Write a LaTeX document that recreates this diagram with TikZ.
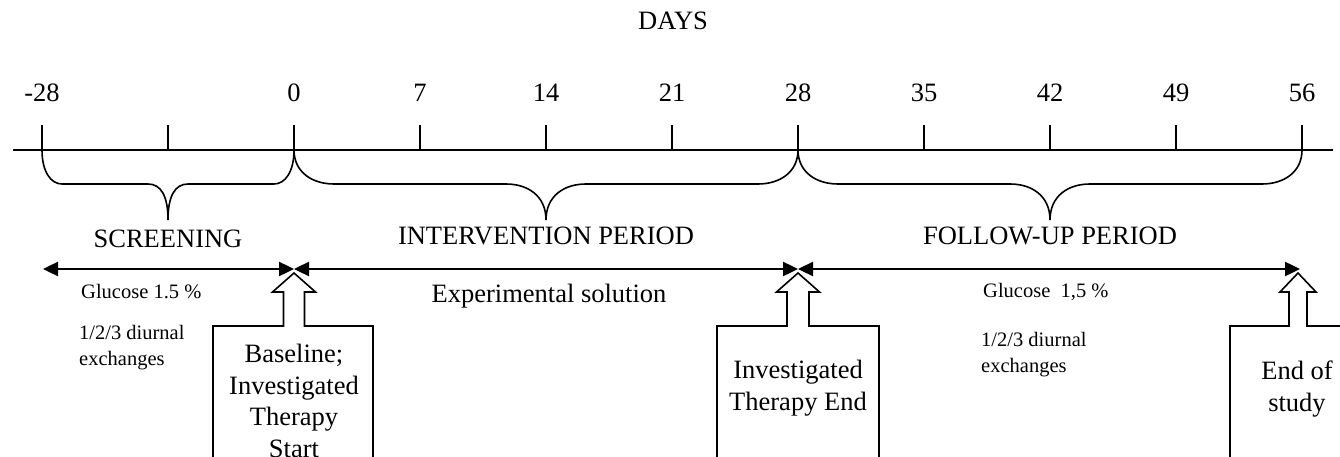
\documentclass[tikz,border=0pt]{standalone}
\usepackage{fontspec}
\setmainfont{Liberation Serif}
\usetikzlibrary{arrows.meta}
\newcommand\blockarr[5]{%
  \draw[blockarrow] (#1,273) -- (#1+#2,292) -- (#1+#3,292) -- (#1+#3,326) -- (#5,326) -- (#5,470)
    -- (#4,470) -- (#4,326) -- (#1-#3,326) -- (#1-#3,292) -- (#1-#2,292) -- cycle;}
\begin{document}
\begin{tikzpicture}[x=1pt,y=-1pt,
  big/.style={font=\fontsize{26.5}{31.5}\selectfont, inner sep=0pt, align=center},
  small/.style={font=\fontsize{20.5}{26}\selectfont, inner sep=0pt, align=left},
  axisline/.style={line width=1.6pt},
  span/.style={line width=2.4pt, {Triangle[length=15pt,width=14pt]}-{Triangle[length=15pt,width=14pt]}},
  blockarrow/.style={line width=1.6pt, fill=white},
  ]
\clip (0,0) rectangle (1340,457);
% title
\node[big] (days) at (673,21) {DAYS};
% axis
\coordinate (axL) at (13,150);
\coordinate (axR) at (1333,150);
\draw[axisline] (axL) -- (axR);
\foreach \i/\lab in {0/-28,1/,2/0,3/7,4/14,5/21,6/28,7/35,8/42,9/49,10/56} {
  \coordinate (t\i) at (42+126*\i,150);
  \draw[axisline] (t\i) -- ++(0,-25);
  \node[big] (l\i) at (42+126*\i,93) {\lab};
}
% braces
\draw[axisline] (t0) .. controls (42,172) and (51,184) .. (62,184) -- (148,184)
  .. controls (161,184) and (168,196) .. (168,220)
  .. controls (168,196) and (175,184) .. (188,184) -- (274,184)
  .. controls (285,184) and (294,172) .. (t2);
\draw[axisline] (t2) .. controls (294,172) and (312,184) .. (334,184) -- (506,184)
  .. controls (528,184) and (546,196) .. (546,220)
  .. controls (546,196) and (564,184) .. (586,184) -- (758,184)
  .. controls (780,184) and (798,172) .. (t6);
\draw[axisline] (t6) .. controls (798,172) and (816,184) .. (838,184) -- (1010,184)
  .. controls (1032,184) and (1050,196) .. (1050,220)
  .. controls (1050,196) and (1068,184) .. (1090,184) -- (1262,184)
  .. controls (1284,184) and (1302,172) .. (t10);
% period labels
\node[big] (scr) at (168,239) {SCREENING};
\node[big] (int) at (546,236) {INTERVENTION PERIOD};
\node[big] (fol) at (1050,236) {FOLLOW-UP PERIOD};
% span arrows
\coordinate (a0) at (43,269);
\coordinate (a1) at (294,269);
\coordinate (a2) at (798,269);
\coordinate (a3) at (1300,269);
\draw[span] (a0) -- (a1);
\draw[span] (a1) -- (a2);
\draw[span] (a2) -- (a3);
% texts under arrows
\node[small, anchor=west] (g1) at (81,292) {Glucose 1.5 \%};
\node[small, anchor=west] (d1) at (79,348) {1/2/3 diurnal\\exchanges};
\node[big] (exp) at (549,296) {Experimental solution};
\node[small, anchor=west] (g2) at (983,292) {Glucose\ \ 1,5 \%};
\node[small, anchor=west] (d2) at (981,355) {1/2/3 diurnal\\exchanges};
% block arrows
\blockarr{294}{21.5}{10.5}{213}{373}
\blockarr{798}{21.5}{11}{717}{879}
\blockarr{1298}{18}{9}{1230}{1370}
\node[big] (b1) at (294,401) {Baseline;\\Investigated\\Therapy\\Start};
\node[big] (b2) at (798,388) {Investigated\\Therapy End};
\node[big] (b3) at (1297,389) {End of\\study};
\end{tikzpicture}
\end{document}
